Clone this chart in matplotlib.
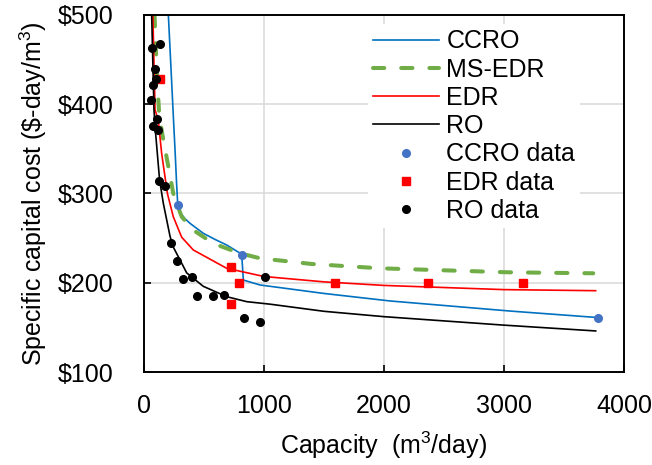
import matplotlib
matplotlib.use('Agg')
import matplotlib.pyplot as plt

plt.rcParams['font.family'] = ['Liberation Sans', 'DejaVu Sans']
plt.rcParams['mathtext.default'] = 'regular'

# fitted curves
ccro_x = [203, 225, 245, 260, 272, 281, 300, 340, 383, 494, 600, 689, 814, 828, 967, 1500, 2050, 3050, 3781]
ccro_y = [500, 440, 385, 345, 310, 288, 279, 272, 266.6, 255.4, 248, 242.3, 232, 203, 197.5, 188, 179.6, 168.3, 161]

msedr_x = [88, 92, 111, 128, 161, 203, 244, 272, 314, 411, 578, 800, 967, 1400, 1967, 3036, 3744]
msedr_y = [500, 485, 424, 386, 360, 330, 300, 289, 274, 259, 244, 233, 227.4, 221, 216.2, 211.7, 210.6]

edr_x = [74, 92, 119, 147, 195, 244, 314, 411, 689, 1000, 1500, 2000, 3000, 3764]
edr_y = [500, 394, 382, 345, 300, 274, 251, 236.7, 216.2, 207, 201, 197, 192.3, 191.1]

ro_x = [64, 83, 92, 130, 161, 217, 244, 356, 494, 689, 856, 1050, 1500, 2000, 3000, 3764]
ro_y = [500, 394, 375, 315, 289, 252, 240, 211, 196, 184.4, 178.8, 176, 168, 162, 152.5, 146]

# measured points
ccro_dx = [281, 814, 3781]
ccro_dy = [287.5, 231, 161]

edr_dx = [131, 722, 789, 722, 1590, 2370, 3160]
edr_dy = [428, 218, 200, 176, 200, 200, 200]

ro_dx = [64, 130, 94, 97, 78, 58, 108, 72, 117, 128, 178, 228, 278, 328, 397, 444, 578, 667, 831, 964, 1011]
ro_dy = [463, 468, 440, 428, 422, 405, 384, 376, 371, 314, 308, 244, 224, 204, 206, 185.5, 185.5, 186, 161, 156, 206]

fig = plt.figure(figsize=(6.52, 4.65), dpi=100)
ax = fig.add_axes([144/652, 93/465, 480/652, 357/465])

ax.plot(ccro_x, ccro_y, color='#0070C0', lw=1.2, label='CCRO')
ax.plot(msedr_x, msedr_y, color='#70AD47', lw=2.9, dashes=(2.8, 4.2),
        dash_capstyle='round', label='MS-EDR')
ax.plot(edr_x, edr_y, color='#FF0000', lw=1.2, label='EDR')
ax.plot(ro_x, ro_y, color='black', lw=1.2, label='RO')
ax.plot(ccro_dx, ccro_dy, 'o', color='#4472C4', ms=5.5, label='CCRO data')
ax.plot(edr_dx, edr_dy, 's', color='#FF0000', ms=5.5, label='EDR data')
ax.plot(ro_dx, ro_dy, 'o', color='black', ms=5.5, label='RO data')

ax.set_xlim(0, 4000)
ax.set_ylim(100, 500)
ax.set_xticks([0, 1000, 2000, 3000, 4000])
ax.set_yticks([100, 200, 300, 400, 500])
ax.set_yticklabels(['$100', '$200', '$300', '$400', '$500'])
ax.grid(True, color='#D9D9D9', lw=1.1)
ax.set_axisbelow(True)
for s in ax.spines.values():
    s.set_linewidth(1.4)
ax.tick_params(direction='in', length=5, width=1.2, labelsize=18)
ax.tick_params(axis='y', pad=22)
ax.tick_params(axis='x', pad=16)

ax.set_xlabel('Capacity  (m$^3$/day)', fontsize=18, labelpad=8)
ax.set_ylabel('Specific capital cost (\\$-day/m$^3$)', fontsize=18, labelpad=6)

leg = ax.legend(loc='upper left', bbox_to_anchor=(0.466, 0.974), borderaxespad=0,
                fontsize=18, frameon=True, facecolor='white', edgecolor='none',
                framealpha=1, fancybox=False, borderpad=0.2, labelspacing=0.17,
                handlelength=2.65, handletextpad=0.3)

fig.savefig('out.png', dpi=100)
